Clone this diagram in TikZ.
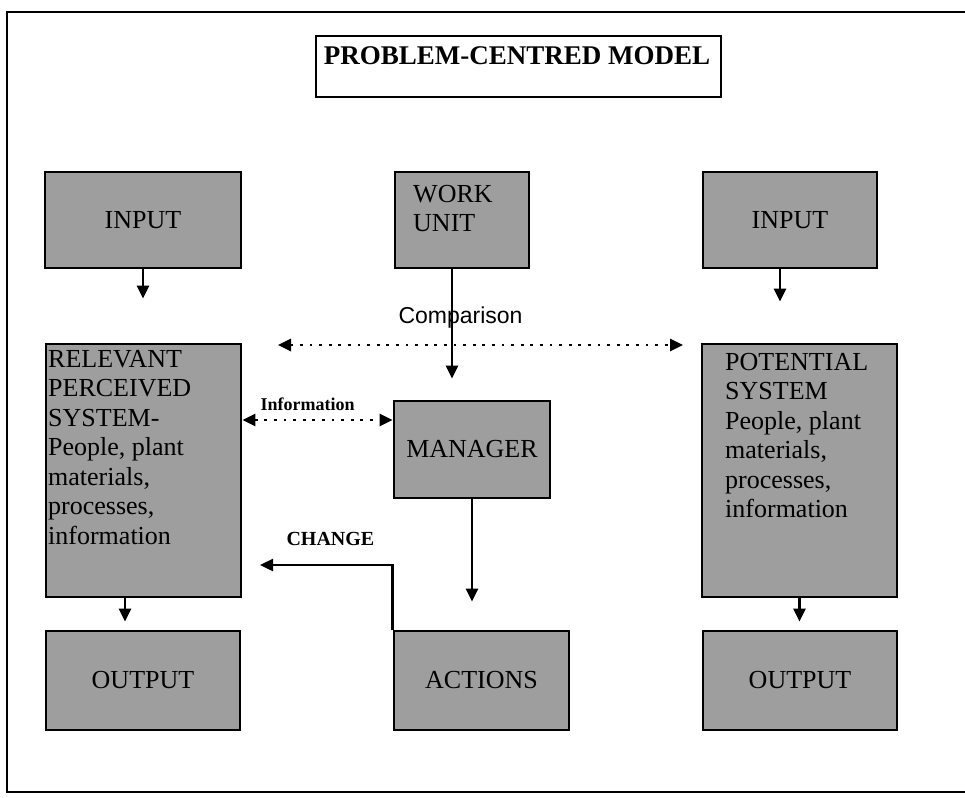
\documentclass[tikz,border=0pt]{standalone}
\usepackage{fontspec}
\setmainfont{Liberation Serif}
\newfontfamily\cmpfont{Liberation Sans}
\usetikzlibrary{arrows.meta,positioning}

\begin{document}
\begin{tikzpicture}[x=1pt,y=-1pt,
    box/.style={draw,line width=2.8pt,fill=black!38,inner sep=0pt,font=\fontsize{26}{29.5}\selectfont},
    boxtext/.style={align=left,inner sep=0pt,font=\fontsize{26}{29.5}\selectfont},
    arr/.style={line width=2.4pt,-{Triangle[length=13pt,width=12pt]}},
    darr/.style={line width=2.8pt,dash pattern=on 2.8pt off 6.8pt,{Triangle[length=13pt,width=12pt]}-{Triangle[length=13pt,width=12pt]}}]
    \useasboundingbox (0,0) rectangle (965,797);
    \draw[line width=2.8pt] (968,12) -| (7,792) -- (968,792);

    \node[draw,line width=2.8pt,minimum width=405,minimum height=61] (title) at (518.5,66.5) {};
    \node[anchor=base,font=\bfseries\fontsize{27}{30}\selectfont] (titletxt) at (517,65) {PROBLEM-CENTRED MODEL};

    \node[box,minimum width=196,minimum height=96] (inL) at (143,220) {INPUT};
    \node[box,minimum width=134,minimum height=96] (work) at (462,220) {};
    \node[boxtext,anchor=north west] (worktxt) at (413,185) {WORK\\UNIT};
    \node[box,minimum width=174,minimum height=96] (inR) at (790,220) {INPUT};

    \node[box,minimum width=195,minimum height=253] (rps) at (143.5,470.5) {};
    \node[boxtext,anchor=north west] (rpstxt) at (48,350) {RELEVANT\\PERCEIVED\\SYSTEM-\\People, plant\\materials,\\processes,\\information};
    \node[box,minimum width=156,minimum height=97] (mgr) at (472,449.5) {MANAGER};
    \node[box,minimum width=195,minimum height=253] (pot) at (799.5,470.5) {};
    \node[boxtext,anchor=north west] (pottxt) at (725,353) {POTENTIAL\\SYSTEM\\People, plant\\materials,\\processes,\\information};

    \node[box,minimum width=194,minimum height=99] (outL) at (143,680.5) {OUTPUT};
    \node[box,minimum width=175,minimum height=99] (acts) at (481.5,680.5) {ACTIONS};
    \node[box,minimum width=194,minimum height=99] (outR) at (800,680.5) {OUTPUT};

    \node[anchor=base west,font=\cmpfont\fontsize{23}{26}\selectfont] (cmp) at (395,323) {Comparison};
    \node[anchor=base west,font=\bfseries\fontsize{18}{20}\selectfont] (info) at (257,410) {Information};
    \node[anchor=base west,font=\bfseries\fontsize{20}{22}\selectfont] (chg) at (283,545) {CHANGE};

    \coordinate (cmpL) at (278,345);
    \coordinate (cmpR) at (683,345);
    \coordinate (infoy) at (0,420);
    \coordinate (chgend) at (260,565);

    \draw[arr,shorten >=44pt] (inL.south) -- (inL.south |- rps.north);
    \draw[arr,shorten >=41pt] ([xshift=-10pt]inR.south) -- ([xshift=-10pt]inR.south |- pot.north);
    \draw[arr,shorten >=21pt] ([xshift=-10pt]work.south) -- ([xshift=-10pt]work.south |- mgr.north);
    \draw[arr,shorten >=28pt] (mgr.south) -- (mgr.south |- acts.north);
    \draw[arr,shorten >=8pt] ([xshift=-18.5pt]rps.south) -- ([xshift=-18.5pt]rps.south |- outL.north);
    \draw[arr,shorten >=8pt] (pot.south) -- (pot.south |- outR.north);
    \draw[arr] (acts.north west) |- (chgend);

    \draw[darr] (cmpL) -- (cmpR);
    \draw[darr] (rps.east |- infoy) -- (mgr.west |- infoy);
\end{tikzpicture}
\end{document}
